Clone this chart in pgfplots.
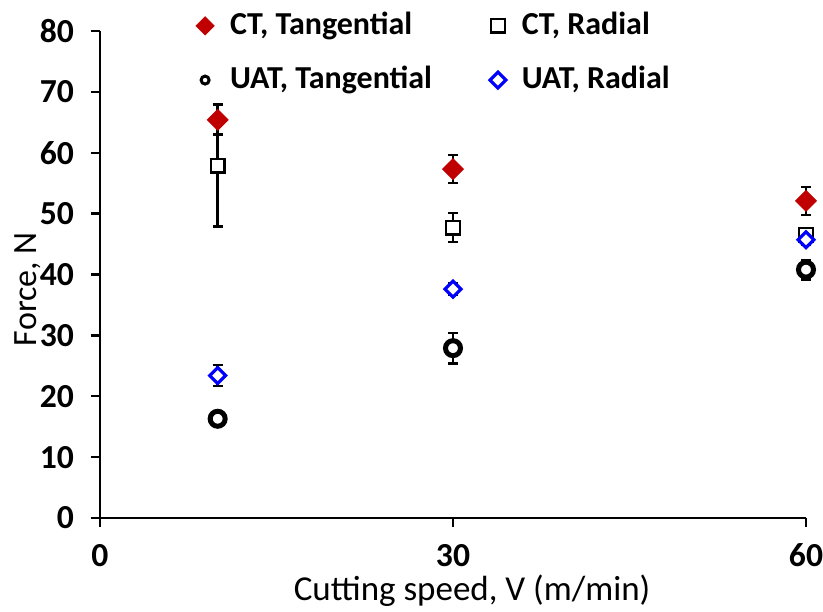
\documentclass[border=0pt]{standalone}
\usepackage{pgfplots}
\pgfplotsset{compat=1.18}
\usepackage{fontspec}
\setmainfont{Carlito}
\definecolor{ctred}{RGB}{192,0,0}
\definecolor{uatblue}{RGB}{0,0,255}
\begin{document}
\fontsize{16}{19}\selectfont
\begin{tikzpicture}
\begin{axis}[
  scale only axis, width=353pt, height=243.5pt,
  xmin=0, xmax=60, ymin=0, ymax=80,
  axis x line*=bottom, axis y line*=left,
  axis line style={line width=1.2pt, -},
  xtick={0,30,60}, ytick={0,10,...,80},
  tick align=outside, major tick length=4.5pt,
  tick style={line width=1.2pt, black},
  every tick label/.append style={font=\fontsize{16.8}{19}\selectfont\bfseries},
  xticklabel style={yshift=-3pt},
  yticklabel style={xshift=-3pt},
  /pgf/number format/assume math mode=true,
  xlabel={Cutting speed, V (m/min)}, ylabel={Force, N},
  xlabel style={font=\fontsize{17.5}{20}\selectfont, at={(axis description cs:0.527,0)}, anchor=center, yshift=-36.5pt},
  ylabel style={font=\fontsize{17}{20}\selectfont, at={(axis description cs:0,0.47)}, anchor=center, yshift=36pt},
  clip=false,
  legend cell align=left,
  legend columns=2,
  legend style={at={(axis description cs:0.127,1.056)}, anchor=north west, draw=none, fill=none,
    font=\fontsize{16}{19}\selectfont\bfseries, row sep=9.5pt,
    /tikz/every odd column/.append style={column sep=6pt},
    /tikz/every even column/.append style={column sep=27pt}},
  error bars/y dir=both, error bars/y explicit,
  error bars/error mark=-,
  error bars/error bar style={line width=1.2pt, black},
  error bars/error mark options={rotate=90, line width=1.2pt, black, mark size=2.5pt},
]
\addlegendimage{only marks, mark=square*, mark size=3.2pt, mark options={rotate=45, fill=ctred, draw=ctred}}
\addlegendentry{CT, Tangential}
\addlegendimage{only marks, mark=square, mark size=3.4pt, mark options={line width=1.2pt, draw=black, fill=white}}
\addlegendentry{CT, Radial}
\addlegendimage{only marks, mark=o, mark size=2pt, mark options={line width=1.5pt, draw=black}}
\addlegendentry{UAT, Tangential}
\addlegendimage{only marks, mark=square, mark size=2.8pt, mark options={rotate=45, line width=1.6pt, draw=uatblue, fill=white}}
\addlegendentry{UAT, Radial}
% CT Radial
\addplot[forget plot, only marks, mark=square*, mark size=3.4pt, mark options={line width=1.2pt, draw=black, fill=white}]
  table[x=x, y=y, y error=e] {
x y e
10 57.9 10.0
30 47.7 2.4
60 46.5 1.0
};
% CT Tangential
\addplot[forget plot, only marks, mark=square*, mark size=3.7pt, mark options={rotate=45, fill=ctred, draw=ctred}]
  table[x=x, y=y, y error=e] {
x y e
10 65.4 2.4
30 57.3 2.3
60 52.1 2.3
};
% UAT Tangential
\addplot[forget plot, only marks, mark=*, mark size=3.75pt, mark options={line width=2.5pt, draw=black, fill=white}]
  table[x=x, y=y, y error=e] {
x y e
10 16.3 1.0
30 27.9 2.5
60 40.8 1.6
};
% UAT Radial
\addplot[forget plot, only marks, mark=square*, mark size=2.8pt, mark options={rotate=45, line width=1.6pt, draw=uatblue, fill=white}]
  table[x=x, y=y, y error=e] {
x y e
10 23.4 1.7
30 37.6 1.0
60 45.7 0.8
};
\coordinate (ll) at (rel axis cs:0,0);
\coordinate (ur) at (rel axis cs:1,1);
\end{axis}
\pgfresetboundingbox
\path[use as bounding box] ([shift={(-50pt,-47pt)}]ll) rectangle ([shift={(8.5pt,15.5pt)}]ur);
\end{tikzpicture}
\end{document}
